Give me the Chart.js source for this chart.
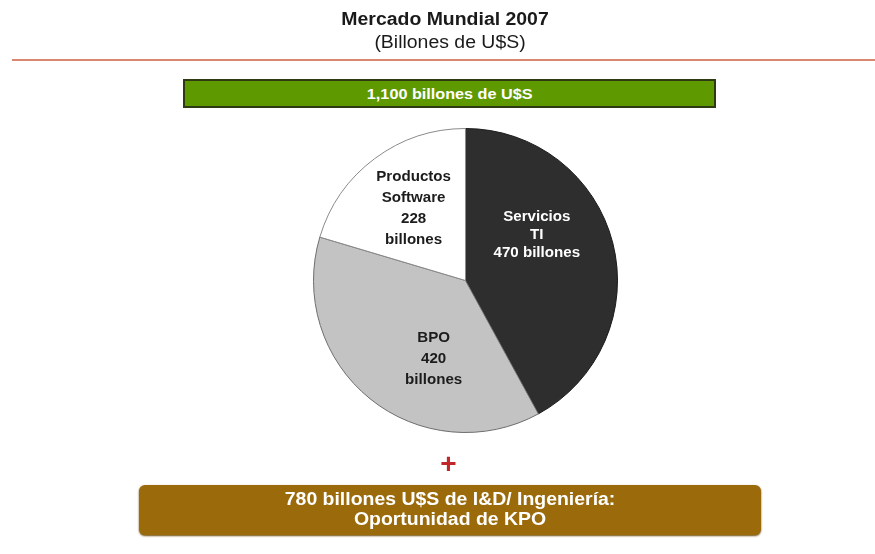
<!DOCTYPE html>
<html>
<head>
<meta charset="utf-8">
<script src="https://cdn.jsdelivr.net/npm/chart.js@4.4.0/dist/chart.umd.min.js"></script>
<style>
  body { margin: 0; background: #fff; font-family: "Liberation Sans", Arial, sans-serif; }
  #wrap { position: relative; width: 875px; height: 554px; overflow: hidden; }
  #pie { position: absolute; left: 0; top: 0; }
  .txt { position: absolute; left: 0; width: 875px; text-align: center; color: #1a1a1a; }
  .wide { display: inline-block; transform: scaleX(1.08); }
  #title { top: 9px; font-size: 18px; font-weight: bold; padding-left: 16px; box-sizing: border-box; }
  #subtitle { top: 32px; font-size: 18px; padding-left: 26px; box-sizing: border-box; }
  #rule { position: absolute; left: 12px; right: 0; top: 59px; height: 2px; background: #d98770; }
  #total { position: absolute; left: 183px; top: 79px; width: 529px; height: 25px;
           background: #5f9900; border: 2px solid #2e3b12; color: #fff; font-weight: bold;
           font-size: 15px; text-align: center; line-height: 25px; }
  #plus { top: 448px; padding-left: 22px; box-sizing: border-box; color: #c0262a; font-size: 28px; font-weight: bold; }
  #kpo { position: absolute; left: 139px; top: 485px; width: 622px; height: 50px;
         background: #9b6a0b; border-radius: 6px; box-shadow: 0 1px 2px #6b4a08;
         color: #fff; font-weight: bold; font-size: 18px; text-align: center; line-height: 20px;
         padding-top: 4px; box-sizing: border-box; }
</style>
</head>
<body>
<div id="wrap">
  <canvas id="pie" width="875" height="554"></canvas>
  <div id="title" class="txt"><span class="wide">Mercado Mundial 2007</span></div>
  <div id="subtitle" class="txt"><span class="wide">(Billones de U$S)</span></div>
  <div id="rule"></div>
  <div id="total"><span class="wide">1,100 billones de U$S</span></div>
  <div id="plus" class="txt">+</div>
  <div id="kpo"><span class="wide">780 billones U$S de I&amp;D/ Ingeniería:<br>Oportunidad de KPO</span></div>
</div>
<script>
// market segments, clockwise from 12 o'clock
const segments = ["Servicios TI", "BPO", "Productos Software"];
const values = [470, 420, 228];
const nameLines = [["Servicios", "TI"], ["BPO"], ["Productos", "Software"]];
const unitOnValueLine = [true, false, false];

const sliceColors = ["#2e2e2e", "#c3c3c3", "#ffffff"];
const labelColors = ["#ffffff", "#1c1c1c", "#1c1c1c"];
// nudge each label off the slice bisector, in degrees, and set its distance from the centre
const labelTurn = [-18, -17, 1];
const labelDist = [0.555, 0.56, 0.585];
const labelLeading = [18, 21, 21];

const sliceLabels = {
  id: "sliceLabels",
  afterDatasetsDraw(chart) {
    const ctx = chart.ctx;
    const meta = chart.getDatasetMeta(0);
    meta.data.forEach((arc, i) => {
      const p = arc.getProps(["x", "y", "startAngle", "endAngle", "outerRadius"], true);
      const mid = (p.startAngle + p.endAngle) / 2 + labelTurn[i] * Math.PI / 180;
      const cx = p.x + Math.cos(mid) * p.outerRadius * labelDist[i];
      const cy = p.y + Math.sin(mid) * p.outerRadius * labelDist[i];
      const lines = nameLines[i].slice();
      if (unitOnValueLine[i]) {
        lines.push(values[i] + " billones");
      } else {
        lines.push(String(values[i]), "billones");
      }
      ctx.save();
      ctx.font = "bold 14px 'Liberation Sans', Arial, sans-serif";
      ctx.fillStyle = labelColors[i];
      ctx.textAlign = "center";
      ctx.textBaseline = "middle";
      const top = cy - (lines.length - 1) * labelLeading[i] / 2;
      lines.forEach((ln, k) => {
        ctx.save();
        ctx.translate(cx, top + k * labelLeading[i]);
        ctx.scale(1.08, 1);
        ctx.fillText(ln, 0, 0);
        ctx.restore();
      });
      ctx.restore();
    });
  }
};

new Chart(document.getElementById("pie"), {
  type: "pie",
  data: {
    labels: segments,
    datasets: [{
      data: values,
      backgroundColor: sliceColors,
      borderColor: ["#1a1a1a", "#6e6e6e", "#8a8a8a"],
      borderWidth: 1
    }]
  },
  options: {
    responsive: false,
    animation: false,
    devicePixelRatio: 1,
    layout: { padding: { top: 128, bottom: 121, left: 313, right: 257 } },
    plugins: {
      legend: { display: false },
      tooltip: { enabled: false }
    }
  },
  plugins: [sliceLabels]
});
</script>
</body>
</html>
